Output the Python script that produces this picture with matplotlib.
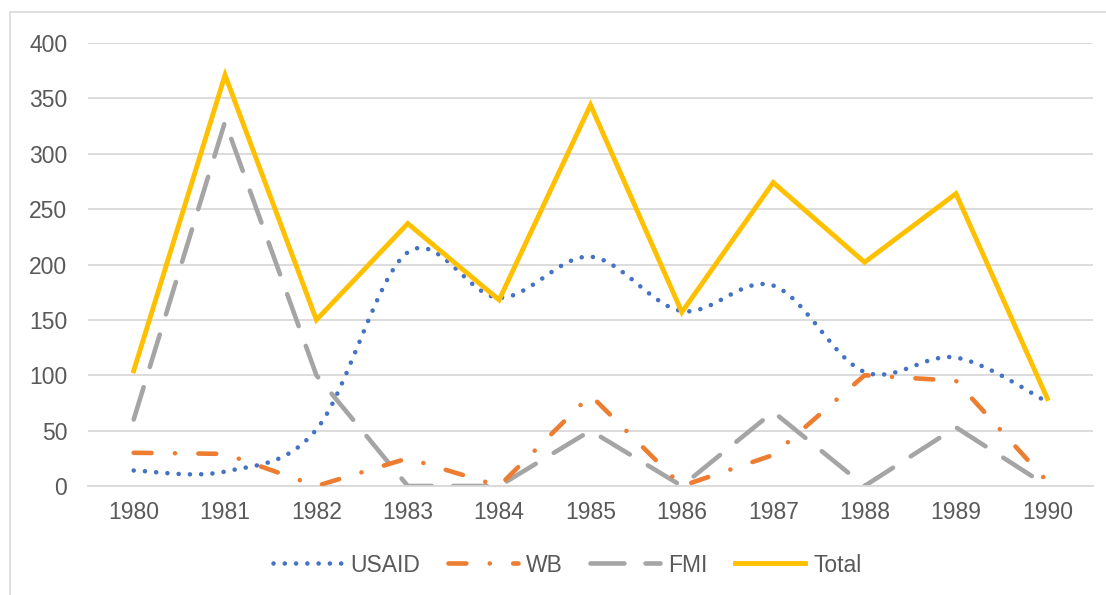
import matplotlib
matplotlib.use("Agg")
import matplotlib.pyplot as plt
from matplotlib.path import Path
from matplotlib.patches import PathPatch, Rectangle
from matplotlib.lines import Line2D
import numpy as np

years = ["1980", "1981", "1982", "1983", "1984", "1985", "1986", "1987", "1988", "1989", "1990"]
usaid = [14, 13, 51, 211, 170, 207, 158, 181, 103, 116, 76]
wb = [30, 29, 0, 25, 0, 82, 0, 28, 100, 95, 4]
fmi = [60, 329, 100, 0, 0, 50, 0, 67, 0, 53, 0]
total = [104, 371, 150, 237, 168, 344, 157, 274, 202, 264, 79]

C_USAID = "#4472C4"
C_WB = "#ED7D31"
C_FMI = "#A5A5A5"
C_TOTAL = "#FFC000"
GRID = "#D9D9D9"
TXT = "#595959"
FS = 16.5

plt.rcParams["font.family"] = ["Liberation Sans", "DejaVu Sans"]

W, H = 1106, 595
fig = plt.figure(figsize=(W / 100, H / 100), dpi=100)
fig.patches.append(Rectangle((10 / W, -0.1), 1.2, 1 - 12 / H + 0.1, transform=fig.transFigure,
                             fill=False, edgecolor=GRID, linewidth=1.2))

ax = fig.add_axes([88 / W, 1 - 486 / H, (1093 - 88) / W, (486 - 43) / H])
x = np.arange(len(years))

# USAID smoothed (Excel-style bezier through the data points)
LW_S = 3.3
pts = np.column_stack([x, usaid]).astype(float)
verts = [tuple(pts[0])]
codes = [Path.MOVETO]
n = len(pts)
for i in range(n - 1):
    p0 = pts[i - 1] if i > 0 else pts[i]
    p1 = pts[i]
    p2 = pts[i + 1]
    p3 = pts[i + 2] if i + 2 < n else pts[i + 1]
    c1 = p1 + (p2 - p0) / 6.0
    c2 = p2 - (p3 - p1) / 6.0
    verts += [tuple(c1), tuple(c2), tuple(p2)]
    codes += [Path.CURVE4, Path.CURVE4, Path.CURVE4]
dot_style = (0, (0.01, 2.45))
patch = PathPatch(Path(verts, codes), fill=False, edgecolor=C_USAID, linewidth=LW_S,
                  linestyle=dot_style, capstyle="round", zorder=3)
ax.add_patch(patch)

wb_style = (0, (3.9, 5.1, 0.01, 5.1))
fmi_style = (0, (7.4, 4.6))
ax.plot(x, wb, color=C_WB, lw=LW_S, linestyle=wb_style, dash_capstyle="round",
        dash_joinstyle="round", zorder=3)
ax.plot(x, fmi, color=C_FMI, lw=LW_S, linestyle=fmi_style, dash_capstyle="round",
        dash_joinstyle="round", zorder=2)
ax.plot(x, total, color=C_TOTAL, lw=3.5, solid_joinstyle="miter", zorder=4)

ax.set_xlim(-0.5, len(years) - 0.5)
ax.set_ylim(0, 400)
ax.set_yticks(np.arange(0, 401, 50))
ax.set_xticks(x)
ax.set_xticklabels(years)
ax.grid(axis="y", color=GRID, linewidth=1.3)
ax.set_axisbelow(True)
for s in ["top", "right", "left"]:
    ax.spines[s].set_visible(False)
ax.spines["bottom"].set_color(GRID)
ax.spines["bottom"].set_linewidth(1.3)
ax.tick_params(axis="both", length=0, labelsize=FS, colors=TXT)
ax.tick_params(axis="y", pad=15)
ax.tick_params(axis="x", pad=10.5)

handles = [
    Line2D([], [], color=C_USAID, lw=LW_S, linestyle=dot_style, dash_capstyle="round"),
    Line2D([], [], color=C_WB, lw=LW_S, linestyle=wb_style, dash_capstyle="round"),
    Line2D([], [], color=C_FMI, lw=LW_S, linestyle=fmi_style, dash_capstyle="round"),
    Line2D([], [], color=C_TOTAL, lw=3.5),
]
leg = fig.legend(handles, ["USAID", "WB", "FMI", "Total"], loc="center",
                 bbox_to_anchor=(567 / W, 1 - 565 / H), ncol=4, frameon=False,
                 fontsize=FS, handlelength=3.05, handletextpad=0.35, columnspacing=1.2)
for t in leg.get_texts():
    t.set_color(TXT)

fig.savefig("out.png", dpi=100)
